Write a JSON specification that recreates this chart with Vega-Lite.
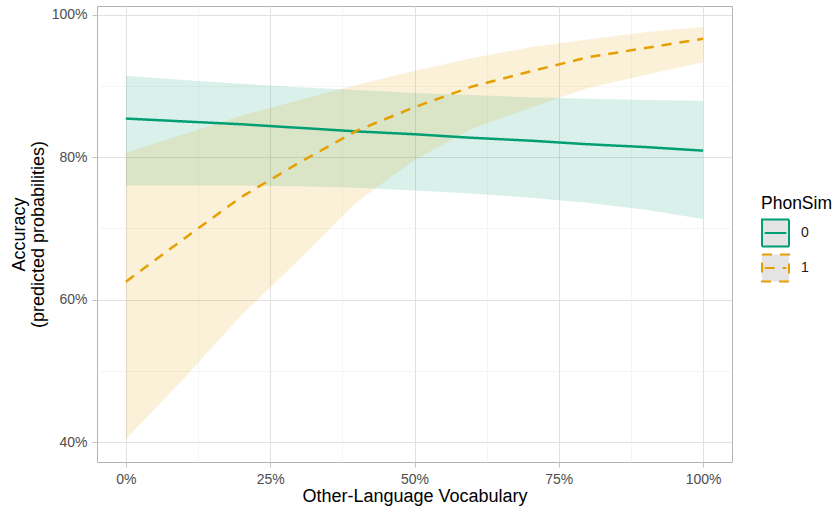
{
  "$schema": "https://vega.github.io/schema/vega-lite/v6.json",
  "width": 635,
  "height": 456,
  "autosize": "none",
  "padding": {"left": 97, "top": 6, "right": 107, "bottom": 48},
  "config": {
    "font": "Liberation Sans",
    "view": {"stroke": "#b3b3b3", "strokeWidth": 1},
    "axis": {
      "domain": false,
      "labelFontSize": 14,
      "labelColor": "#4d4d4d",
      "titleFontSize": 18,
      "titleFontWeight": "normal",
      "titleColor": "#000000",
      "tickColor": "#b3b3b3",
      "tickSize": 5,
      "tickWidth": 0.8
    }
  },
  "data": {
    "values": [
      {"vocab": 0.0, "PhonSim": "0", "fit": 0.854, "lo": 0.760, "hi": 0.914},
      {"vocab": 0.1, "PhonSim": "0", "fit": 0.850, "lo": 0.760, "hi": 0.908},
      {"vocab": 0.2, "PhonSim": "0", "fit": 0.846, "lo": 0.760, "hi": 0.903},
      {"vocab": 0.3, "PhonSim": "0", "fit": 0.841, "lo": 0.759, "hi": 0.898},
      {"vocab": 0.4, "PhonSim": "0", "fit": 0.836, "lo": 0.757, "hi": 0.894},
      {"vocab": 0.5, "PhonSim": "0", "fit": 0.832, "lo": 0.753, "hi": 0.890},
      {"vocab": 0.6, "PhonSim": "0", "fit": 0.827, "lo": 0.749, "hi": 0.887},
      {"vocab": 0.7, "PhonSim": "0", "fit": 0.823, "lo": 0.743, "hi": 0.884},
      {"vocab": 0.8, "PhonSim": "0", "fit": 0.818, "lo": 0.736, "hi": 0.882},
      {"vocab": 0.9, "PhonSim": "0", "fit": 0.814, "lo": 0.726, "hi": 0.880},
      {"vocab": 1.0, "PhonSim": "0", "fit": 0.809, "lo": 0.713, "hi": 0.879},
      {"vocab": 0.0, "PhonSim": "1", "fit": 0.625, "lo": 0.404, "hi": 0.806},
      {"vocab": 0.1, "PhonSim": "1", "fit": 0.685, "lo": 0.489, "hi": 0.832},
      {"vocab": 0.2, "PhonSim": "1", "fit": 0.744, "lo": 0.578, "hi": 0.858},
      {"vocab": 0.3, "PhonSim": "1", "fit": 0.792, "lo": 0.656, "hi": 0.880},
      {"vocab": 0.4, "PhonSim": "1", "fit": 0.837, "lo": 0.737, "hi": 0.901},
      {"vocab": 0.5, "PhonSim": "1", "fit": 0.870, "lo": 0.796, "hi": 0.921},
      {"vocab": 0.6, "PhonSim": "1", "fit": 0.899, "lo": 0.840, "hi": 0.939},
      {"vocab": 0.7, "PhonSim": "1", "fit": 0.920, "lo": 0.869, "hi": 0.954},
      {"vocab": 0.8, "PhonSim": "1", "fit": 0.940, "lo": 0.897, "hi": 0.965},
      {"vocab": 0.9, "PhonSim": "1", "fit": 0.953, "lo": 0.915, "hi": 0.975},
      {"vocab": 1.0, "PhonSim": "1", "fit": 0.966, "lo": 0.933, "hi": 0.983}
    ]
  },
  "encoding": {
    "x": {
      "field": "vocab",
      "type": "quantitative",
      "scale": {"domain": [-0.05, 1.05], "nice": false, "zero": false},
      "axis": {
        "title": "Other-Language Vocabulary",
        "titlePadding": 1,
        "labelPadding": 5,
        "values": [0, 0.125, 0.25, 0.375, 0.5, 0.625, 0.75, 0.875, 1],
        "labelExpr": "datum.value % 0.25 == 0 ? format(datum.value, '.0%') : ''",
        "grid": true,
        "gridColor": {"condition": {"test": "datum.value % 0.25 != 0", "value": "#efefef"}, "value": "#dedede"},
        "gridWidth": {"condition": {"test": "datum.value % 0.25 != 0", "value": 0.6}, "value": 0.9},
        "tickOpacity": {"condition": {"test": "datum.value % 0.25 != 0", "value": 0}, "value": 1}
      }
    }
  },
  "layer": [
    {
      "transform": [{"filter": "datum.PhonSim == '0'"}],
      "mark": {"type": "area", "fill": "#009E73", "fillOpacity": 0.15},
      "encoding": {
        "y": {
          "field": "lo",
          "type": "quantitative",
          "scale": {"domain": [0.372, 1.012], "nice": false, "zero": false},
          "axis": {
            "title": ["Accuracy", "(predicted probabilities)"],
            "titlePadding": 4,
            "titleLineHeight": 19,
            "labelPadding": 5,
            "values": [0.4, 0.5, 0.6, 0.7, 0.8, 0.9, 1.0],
            "labelExpr": "round(datum.value * 10) % 2 == 0 ? format(datum.value, '.0%') : ''",
            "grid": true,
            "gridColor": {"condition": {"test": "round(datum.value * 10) % 2 == 1", "value": "#efefef"}, "value": "#dedede"},
            "gridWidth": {"condition": {"test": "round(datum.value * 10) % 2 == 1", "value": 0.6}, "value": 0.9},
            "tickOpacity": {"condition": {"test": "round(datum.value * 10) % 2 == 1", "value": 0}, "value": 1}
          }
        },
        "y2": {"field": "hi"}
      }
    },
    {
      "transform": [{"filter": "datum.PhonSim == '1'"}],
      "mark": {"type": "area", "fill": "#E69F00", "fillOpacity": 0.15},
      "encoding": {
        "y": {"field": "lo", "type": "quantitative"},
        "y2": {"field": "hi"}
      }
    },
    {
      "mark": {"type": "line", "strokeWidth": 2.5},
      "encoding": {
        "y": {"field": "fit", "type": "quantitative"},
        "color": {
          "field": "PhonSim",
          "type": "nominal",
          "scale": {"domain": ["0", "1"], "range": ["#009E73", "#E69F00"]},
          "legend": {
            "title": "PhonSim",
            "orient": "none",
            "legendX": 664,
            "legendY": 189,
            "symbolType": "M-1,-1H1V1H-1Z M-0.8,0H0.8",
            "symbolSize": 729,
            "symbolStrokeWidth": 2,
            "symbolFillColor": "#e4e4e4",
            "labelFontSize": 14,
            "labelColor": "#1a1a1a",
            "titleFontSize": 17.5,
            "titleFontWeight": "normal",
            "titleColor": "#000000",
            "titlePadding": 6,
            "rowPadding": 0,
            "labelOffset": 11,
            "encoding": {"symbols": {"fill": {"value": "#e4e4e4"}, "fillOpacity": {"value": 1}, "opacity": {"value": 1}}}
          }
        },
        "strokeDash": {
          "field": "PhonSim",
          "type": "nominal",
          "scale": {"domain": ["0", "1"], "range": [[1, 0], [10, 8]]},
          "legend": {
            "title": "PhonSim",
            "orient": "none",
            "legendX": 664,
            "legendY": 189,
            "symbolType": "M-1,-1H1V1H-1Z M-0.8,0H0.8",
            "symbolSize": 729,
            "symbolStrokeWidth": 2,
            "symbolFillColor": "#e4e4e4",
            "labelFontSize": 14,
            "labelColor": "#1a1a1a",
            "titleFontSize": 17.5,
            "titleFontWeight": "normal",
            "titleColor": "#000000",
            "titlePadding": 6,
            "rowPadding": 0,
            "labelOffset": 11,
            "encoding": {"symbols": {"fill": {"value": "#e4e4e4"}, "fillOpacity": {"value": 1}, "opacity": {"value": 1}}}
          }
        }
      }
    }
  ]
}
